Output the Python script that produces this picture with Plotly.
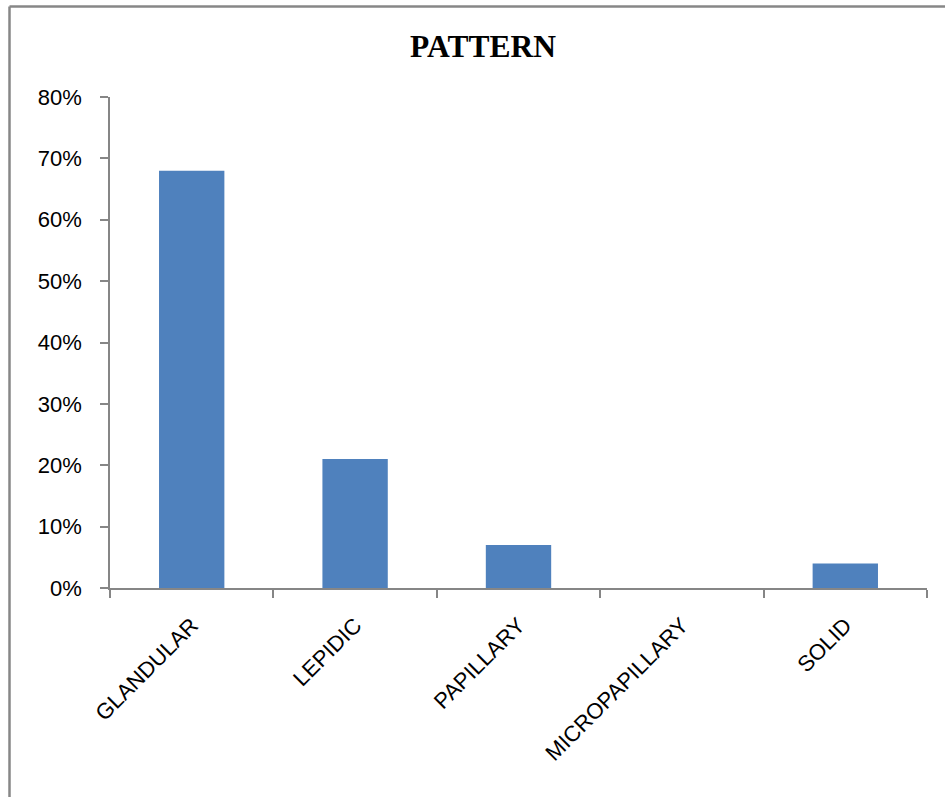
import plotly.graph_objects as go

# Share of cases by histological pattern
patterns = ["GLANDULAR", "LEPIDIC", "PAPILLARY", "MICROPAPILLARY", "SOLID"]
shares = [0.68, 0.21, 0.07, 0.0, 0.04]
y_ticks = [0.0, 0.1, 0.2, 0.3, 0.4, 0.5, 0.6, 0.7, 0.8]

W, H = 945, 797
L, R, T, B = 110, 18, 97, 209
pw, ph = W - L - R, H - T - B

def px_to_paper_x(px):
    return (px - L) / pw

def px_to_paper_y(py):
    return (H - B - py) / ph

fig = go.Figure(
    go.Bar(
        x=patterns,
        y=shares,
        marker=dict(color="#4F81BD", line=dict(width=0)),
    )
)

axis_col = "#868686"
label_font = dict(family="Liberation Sans, Arial, sans-serif", size=22, color="black")

fig.update_layout(
    width=W,
    height=H,
    margin=dict(l=L, r=R, t=T, b=B),
    paper_bgcolor="white",
    plot_bgcolor="white",
    bargap=0.6,
    showlegend=False,
    title=dict(
        text="<b>PATTERN</b>",
        font=dict(family="Liberation Serif, Times New Roman, serif", size=31.5, color="black"),
        x=483 / W,
        xanchor="center",
        xref="container",
        y=1 - 46 / H,
        yanchor="middle",
        yref="container",
    ),
    xaxis=dict(
        tickson="boundaries",
        ticks="outside",
        ticklen=8,
        tickwidth=1.5,
        tickcolor=axis_col,
        showline=True,
        linecolor=axis_col,
        linewidth=1.5,
        tickangle=-45,
        tickfont=label_font,
        showgrid=False,
        ticklabelstandoff=14,
    ),
    yaxis=dict(
        range=[0, 0.8],
        tickvals=y_ticks,
        tickformat=".0%",
        ticks="outside",
        ticklen=8,
        tickwidth=1.5,
        tickcolor=axis_col,
        showline=True,
        linecolor=axis_col,
        linewidth=1.5,
        tickfont=label_font,
        showgrid=False,
        zeroline=False,
        ticklabelstandoff=14,
    ),
)

# Chart-area frame (left and top edges)
frame_col = "#878787"
fig.add_shape(
    type="line", xref="paper", yref="paper",
    x0=px_to_paper_x(9.5), x1=px_to_paper_x(9.5),
    y0=px_to_paper_y(H + 5), y1=px_to_paper_y(6.5),
    line=dict(color=frame_col, width=2.5),
)
fig.add_shape(
    type="line", xref="paper", yref="paper",
    x0=px_to_paper_x(9.5), x1=px_to_paper_x(W + 5),
    y0=px_to_paper_y(6.5), y1=px_to_paper_y(6.5),
    line=dict(color=frame_col, width=2.5),
)

fig.write_html("out.html")
